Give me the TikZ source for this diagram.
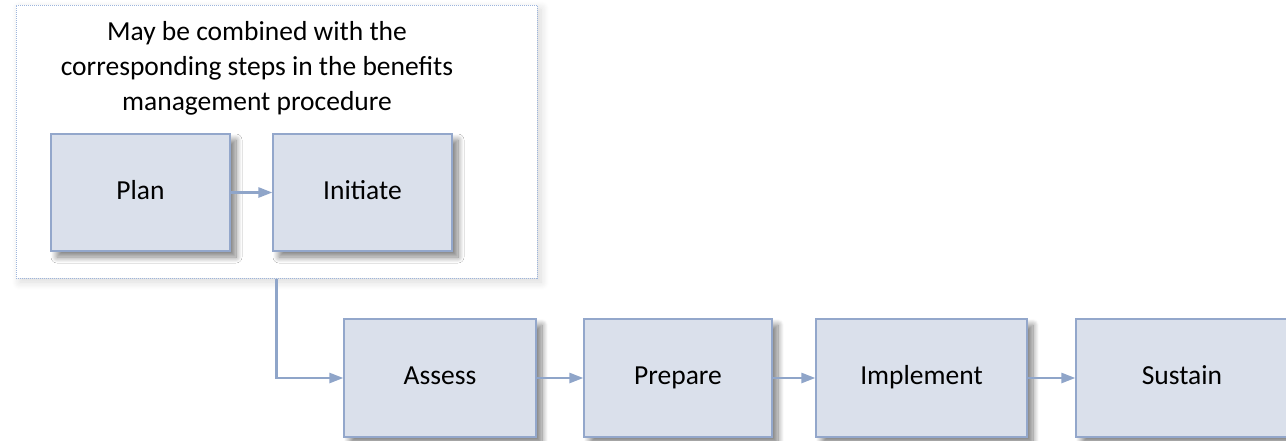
\documentclass[tikz,border=0pt]{standalone}
\usepackage{fontspec}
\setmainfont{Carlito}
\usetikzlibrary{arrows.meta, shadows.blur}
\definecolor{stepFill}{HTML}{DAE0EB}
\definecolor{stepBorde}{HTML}{93A7CB}
\definecolor{flecha}{HTML}{8FA5C9}
\definecolor{grupoBorde}{HTML}{9DB5DD}

\begin{document}
\begin{tikzpicture}[x=1pt, y=-1pt, font=\fontsize{27.5}{35}\selectfont,
        stepbox/.style={draw=stepBorde, fill=stepFill, line width=1.2pt,
            minimum height=117pt, minimum width=179pt, inner sep=0pt,
            text height=19pt, text depth=6pt,
            blur shadow={shadow xshift=6pt, shadow yshift=-6pt, shadow opacity=50,
                shadow blur radius=6pt, shadow blur steps=12}},
        grupo/.style={draw=grupoBorde, densely dotted, line width=1pt, fill=white,
            minimum width=521pt, minimum height=273pt,
            blur shadow={shadow xshift=4pt, shadow yshift=-4pt, shadow opacity=15,
                shadow blur radius=8pt, shadow blur steps=10}},
        flow/.style={-{Triangle[length=14pt, width=10pt]}, flecha, line width=2.5pt}]
    \useasboundingbox (0,0) rectangle (1286,440);
    \node[grupo] (grp) at (276.5,141.5) {};
    \node[align=center] (nota) at (257,68) {May be combined with the\\corresponding steps in the benefits\\management procedure};
    \node[stepbox] (plan) at (140.5,192.5) {Plan};
    \node[stepbox] (init) at (362.5,192.5) {Initiate};
    \node[stepbox, minimum width=192pt, minimum height=118pt] (asse) at (440,378) {Assess};
    \node[stepbox, minimum width=188pt, minimum height=118pt] (prep) at (678,378) {Prepare};
    \node[stepbox, minimum width=211pt, minimum height=118pt] (impl) at (921.5,378) {Implement};
    \node[stepbox, minimum width=212pt, minimum height=118pt] (sust) at (1182,378) {Sustain};
    \draw[flow] (plan) -- (init);
    \draw[flow] (grp.south) |- (asse.west);
    \foreach \a/\b in {asse/prep, prep/impl, impl/sust} \draw[flow] (\a) -- (\b);
\end{tikzpicture}
\end{document}
